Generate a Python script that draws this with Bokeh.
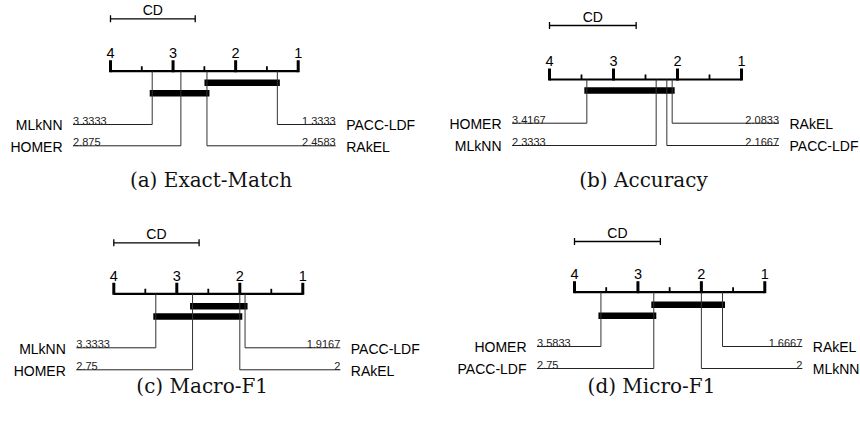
from bokeh.plotting import figure
from bokeh.layouts import column, row
from bokeh.models import Range1d
from bokeh.embed import file_html
from bokeh.resources import INLINE
from bokeh.core.properties import value

# ---------------- data ----------------
TICKS = [1, 2, 3, 4]
MINOR_TICKS = [1.5, 2.5, 3.5]
TICK_LABELS = ["1", "2", "3", "4"]
CD = 1.354

EM_METHODS = ["MLkNN", "HOMER", "RAkEL", "PACC-LDF"]
EM_RANKS = [3.3333, 2.875, 2.4583, 1.3333]
EM_CLIQUES = [("RAkEL", "PACC-LDF"), ("MLkNN", "RAkEL")]

ACC_METHODS = ["HOMER", "MLkNN", "PACC-LDF", "RAkEL"]
ACC_RANKS = [3.4167, 2.3333, 2.1667, 2.0833]
ACC_CLIQUES = [("HOMER", "RAkEL")]

MAF_METHODS = ["MLkNN", "HOMER", "RAkEL", "PACC-LDF"]
MAF_RANKS = [3.3333, 2.75, 2.0, 1.9167]
MAF_CLIQUES = [("HOMER", "PACC-LDF"), ("MLkNN", "RAkEL")]

MIF_METHODS = ["HOMER", "PACC-LDF", "MLkNN", "RAkEL"]
MIF_RANKS = [3.5833, 2.75, 2.0, 1.6667]
MIF_CLIQUES = [("PACC-LDF", "RAkEL"), ("HOMER", "PACC-LDF")]

TITLES = ["(a) Exact-Match", "(b) Accuracy", "(c) Macro-F1", "(d) Micro-F1"]

SANS = value("Liberation Sans")
SERIF = value("DejaVu Serif")


def panel(methods, ranks, cliques, title, W, H, x4, x1, cd_y, axis_y,
          bar_y, row_y, title_x, title_y):
    s = (x1 - x4) / 3.0  # pixels per rank unit

    def r(px):
        return 4 + (x4 - px) / s

    p = figure(width=W, height=H, x_range=Range1d(r(0), r(W)),
               y_range=Range1d(H, 0), output_backend="svg",
               toolbar_location=None, min_border=0,
               x_axis_location=None, y_axis_location=None,
               outline_line_color=None, background_fill_color="white",
               border_fill_color="white")
    p.xgrid.visible = False
    p.ygrid.visible = False

    k = "black"
    # CD bar
    p.segment(x0=[4], y0=[cd_y], x1=[4 - CD], y1=[cd_y], line_color=k, line_width=1.3)
    p.segment(x0=[4, 4 - CD], y0=[cd_y - 3.5] * 2, x1=[4, 4 - CD], y1=[cd_y + 3.5] * 2,
              line_color=k, line_width=1.3)
    p.text(x=[4 - CD / 2], y=[cd_y - 8.5], text=["CD"], text_font=SANS,
           text_font_size="14px", text_align="center", text_baseline="middle",
           text_color=k)

    # rank axis
    p.segment(x0=[4], y0=[axis_y], x1=[1], y1=[axis_y], line_color=k, line_width=2.2)
    p.segment(x0=TICKS, y0=[axis_y + 1] * 4, x1=TICKS, y1=[axis_y - 11] * 4,
              line_color=k, line_width=3)
    p.segment(x0=MINOR_TICKS, y0=[axis_y] * 3, x1=MINOR_TICKS, y1=[axis_y - 5] * 3,
              line_color=k, line_width=1.8)
    p.text(x=TICKS, y=[axis_y - 18.3] * 4, text=TICK_LABELS, text_font=SANS,
           text_font_size="14.5px", text_align="center", text_baseline="middle",
           text_color=k)

    rank_of = dict(zip(methods, ranks))
    ext = 2.5 / s
    for i, (a, b) in enumerate(cliques):
        p.segment(x0=[rank_of[a] + ext], y0=[bar_y[i]], x1=[rank_of[b] - ext],
                  y1=[bar_y[i]], line_color=k, line_width=6.5, line_cap="butt")

    order = sorted(zip(methods, ranks), key=lambda t: -t[1])
    half = len(order) // 2
    left = order[:half]
    right = order[half:][::-1]
    lend = 4 + 37.5 / s
    rend = 1 - 37.5 / s
    gap = 10.5 / s
    for i, (m, rv) in enumerate(left):
        y = row_y[i]
        p.segment(x0=[rv], y0=[axis_y], x1=[rv], y1=[y], line_color="#333333", line_width=1)
        p.segment(x0=[rv], y0=[y], x1=[lend], y1=[y], line_color="#222222", line_width=1)
        p.text(x=[lend], y=[y - 3.6], text=[f"{rv:g}"], text_font=SANS,
               text_font_size="11px", text_align="left", text_baseline="middle",
               text_color="#222222")
        p.text(x=[lend + gap], y=[y + 0.7], text=[m], text_font=SANS,
               text_font_size="14px", text_align="right", text_baseline="middle",
               text_color=k)
    for i, (m, rv) in enumerate(right):
        y = row_y[i]
        p.segment(x0=[rv], y0=[axis_y], x1=[rv], y1=[y], line_color="#333333", line_width=1)
        p.segment(x0=[rv], y0=[y], x1=[rend], y1=[y], line_color="#222222", line_width=1)
        p.text(x=[rend], y=[y - 3.6], text=[f"{rv:g}"], text_font=SANS,
               text_font_size="11px", text_align="right", text_baseline="middle",
               text_color="#222222")
        p.text(x=[rend - gap], y=[y + 0.7], text=[m], text_font=SANS,
               text_font_size="14px", text_align="left", text_baseline="middle",
               text_color=k)

    p.text(x=[r(title_x)], y=[title_y], text=[title], text_font=SERIF,
           text_font_size="20px", text_align="center", text_baseline="middle",
           text_color="#111111")
    return p


pa = panel(EM_METHODS, EM_RANKS, EM_CLIQUES, TITLES[0], 430, 210,
           110, 297.7, 18.3, 70.7, [82.3, 92.7], [124, 145.3], 210.5, 179)
pb = panel(ACC_METHODS, ACC_RANKS, ACC_CLIQUES, TITLES[1], 430, 210,
           119, 311, 25, 79, [90], [122.7, 145], 213, 179)
pc = panel(MAF_METHODS, MAF_RANKS, MAF_CLIQUES, TITLES[2], 430, 211,
           113.3, 302.3, 32.3, 83.3, [95.7, 106], [137.3, 159.3], 201.7, 175)
pd = panel(MIF_METHODS, MIF_RANKS, MIF_CLIQUES, TITLES[3], 430, 211,
           144, 334.3, 31, 81.7, [94.3, 105.3], [136, 158], 221, 175)

layout = column(row(pa, pb), row(pc, pd))
open("out.html", "w").write(file_html(layout, INLINE))
